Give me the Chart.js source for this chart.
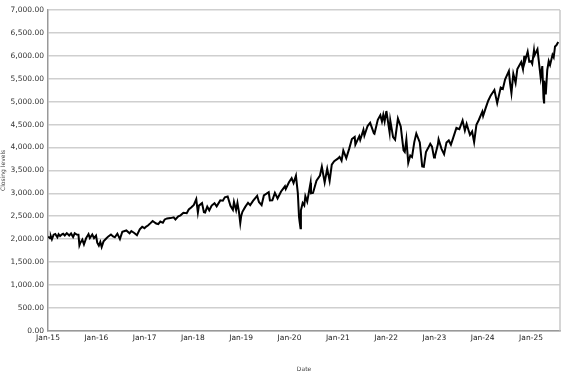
<!DOCTYPE html>
<html><head><meta charset="utf-8">
<script src="https://cdn.jsdelivr.net/npm/chart.js@4.4.1/dist/chart.umd.min.js"></script>
<style>html,body{margin:0;padding:0;background:#fff}#wrap{width:565px;height:381px}</style>
</head><body><div id="wrap"><canvas id="c" width="565" height="381"></canvas></div>
<script>
const yTickLabels = ["0.00","500.00","1,000.00","1,500.00","2,000.00","2,500.00","3,000.00","3,500.00","4,000.00","4,500.00","5,000.00","5,500.00","6,000.00","6,500.00","7,000.00"];
const xTickLabels = ["Jan-15","Jan-16","Jan-17","Jan-18","Jan-19","Jan-20","Jan-21","Jan-22","Jan-23","Jan-24","Jan-25"];

const dates = [
"2015-01-02","2015-01-16","2015-01-22","2015-01-30","2015-02-13","2015-02-25","2015-03-11","2015-03-20","2015-03-31","2015-04-15","2015-04-24","2015-05-06","2015-05-21","2015-06-09","2015-06-23","2015-07-08","2015-07-20","2015-08-05","2015-08-18","2015-08-25","2015-09-01","2015-09-17","2015-09-29","2015-10-15","2015-11-03","2015-11-13","2015-12-01","2015-12-14","2015-12-29",
"2016-01-08","2016-01-20","2016-02-01","2016-02-11","2016-02-25","2016-03-15","2016-03-31","2016-04-20","2016-05-06","2016-05-19","2016-06-08","2016-06-27","2016-07-15","2016-08-15","2016-09-09","2016-09-22","2016-10-14","2016-11-04","2016-11-25","2016-12-13","2016-12-30",
"2017-01-13","2017-01-26","2017-02-15","2017-03-01","2017-03-27","2017-04-13","2017-04-28","2017-05-17","2017-06-01","2017-06-19","2017-07-14","2017-08-08","2017-08-21","2017-09-12","2017-09-29","2017-10-20","2017-11-15","2017-11-30","2017-12-18",
"2018-01-08","2018-01-26","2018-02-08","2018-02-16","2018-03-09","2018-03-23","2018-04-02","2018-04-18","2018-05-03","2018-05-21","2018-06-12","2018-06-28","2018-07-25","2018-08-14","2018-08-29","2018-09-20","2018-10-11","2018-10-29","2018-11-07","2018-11-23","2018-12-03","2018-12-14","2018-12-24","2018-12-31",
"2019-01-10","2019-01-31","2019-02-22","2019-03-08","2019-03-29","2019-04-30","2019-05-13","2019-06-03","2019-06-20","2019-07-26","2019-08-05","2019-08-23","2019-09-12","2019-10-02","2019-10-28","2019-11-27","2019-12-03","2019-12-27",
"2020-01-17","2020-01-31","2020-02-19","2020-03-03","2020-03-12","2020-03-16","2020-03-23","2020-03-26","2020-04-09","2020-04-21","2020-04-29","2020-05-13","2020-06-08","2020-06-11","2020-06-26","2020-07-22","2020-08-18","2020-09-02","2020-09-23","2020-10-12","2020-10-30","2020-11-16","2020-12-04","2020-12-31",
"2021-01-14","2021-01-29","2021-02-12","2021-03-04","2021-03-26","2021-04-16","2021-05-07","2021-05-12","2021-06-11","2021-06-18","2021-07-12","2021-07-19","2021-08-13","2021-09-02","2021-09-30","2021-10-04","2021-10-29","2021-11-18","2021-11-30","2021-12-10","2021-12-20","2021-12-31",
"2022-01-03","2022-01-27","2022-02-02","2022-02-23","2022-03-08","2022-03-29","2022-04-20","2022-05-02","2022-05-11","2022-05-20","2022-06-02","2022-06-16","2022-07-01","2022-07-14","2022-08-01","2022-08-16","2022-09-12","2022-09-30","2022-10-12","2022-10-28","2022-11-15","2022-11-30","2022-12-13","2022-12-28",
"2023-01-05","2023-01-27","2023-02-02","2023-02-24","2023-03-13","2023-03-31","2023-04-18","2023-05-04","2023-05-19","2023-06-15","2023-07-07","2023-07-31","2023-08-18","2023-09-01","2023-09-26","2023-10-12","2023-10-27","2023-11-14","2023-12-01","2023-12-28",
"2024-01-04","2024-01-24","2024-02-12","2024-03-01","2024-03-28","2024-04-19","2024-05-15","2024-05-31","2024-06-18","2024-07-16","2024-07-25","2024-08-05","2024-08-19","2024-09-06","2024-09-19","2024-10-18","2024-10-31","2024-11-11","2024-11-15","2024-12-06","2024-12-18","2024-12-31",
"2025-01-10","2025-01-23","2025-01-27","2025-02-19","2025-03-13","2025-03-25","2025-04-04","2025-04-08","2025-04-09","2025-04-21","2025-05-02","2025-05-13","2025-05-23","2025-06-11","2025-06-20","2025-06-30","2025-07-10","2025-07-24"
];
const closes = [
2058,2019,2063,1995,2097,2113,2040,2108,2068,2106,2117,2080,2131,2080,2124,2046,2128,2100,2097,1867,1914,1990,1884,2023,2109,2023,2102,2021,2078,
1922,1859,1940,1829,1951,2015,2060,2102,2057,2040,2119,2001,2162,2190,2128,2177,2133,2085,2213,2271,2239,
2275,2297,2349,2396,2342,2329,2384,2357,2430,2453,2459,2475,2428,2496,2519,2575,2565,2647,2690,
2748,2873,2581,2732,2786,2588,2582,2708,2630,2733,2786,2716,2846,2839,2914,2931,2728,2641,2814,2633,2790,2599,2351,2507,
2597,2704,2793,2743,2834,2946,2812,2744,2954,3025,2844,2847,3009,2887,3039,3153,3093,3240,
3330,3225,3386,3003,2481,2386,2237,2630,2790,2737,2939,2820,3232,3002,3009,3276,3389,3580,3237,3534,3270,3627,3699,3756,
3796,3714,3934,3768,3975,4185,4232,4063,4247,4166,4385,4258,4468,4537,4308,4300,4605,4704,4567,4712,4568,4766,
4797,4326,4589,4225,4170,4631,4459,4155,3935,3901,4177,3667,3825,3790,4118,4305,4110,3586,3577,3901,3992,4080,4019,3783,
3808,4070,4179,3970,3855,4109,4154,4061,4192,4426,4399,4589,4370,4516,4274,4349,4117,4495,4595,4783,
4689,4869,5021,5137,5254,4967,5308,5278,5487,5667,5399,5186,5608,5408,5713,5864,5705,6001,5870,6090,5872,5882,
5827,6119,6012,6144,5521,5776,5074,4982,5457,5158,5687,5886,5802,6022,5968,6205,6230,6300
];

function monthIndex(s){const [y,m,d]=s.split('-').map(Number);return (y-2015)*12+(m-1)+(d-1)/30;}
const points = dates.map((d,i)=>({x:monthIndex(d),y:closes[i]}));

const frame = {id:'frame',afterDraw(c){const a=c.chartArea,x=c.ctx;x.save();x.strokeStyle='#c8c8c8';x.lineWidth=1.5;x.beginPath();x.moveTo(a.right,a.top);x.lineTo(a.right,a.bottom);x.stroke();x.restore();}};

new Chart(document.getElementById('c'),{
  type:'line',
  data:{datasets:[{data:points,borderColor:'#000',borderWidth:2,pointRadius:0,tension:0,fill:false}]},
  plugins:[frame],
  options:{
    responsive:false,animation:false,
    layout:{padding:{top:10,right:5,bottom:8,left:0}},
    plugins:{legend:{display:false},tooltip:{enabled:false}},
    scales:{
      x:{type:'linear',min:0,max:127.2,
        grid:{display:false,drawTicks:false},
        border:{color:'#999',width:1.5},
        afterBuildTicks:s=>{s.ticks=xTickLabels.map((_,i)=>({value:i*12}));},
        ticks:{autoSkip:false,maxRotation:0,padding:3,color:'#222',font:{family:'DejaVu Sans',size:7.5},callback:(v)=>xTickLabels[Math.round(v/12)]},
        title:{display:true,text:'Date',color:'#444',font:{family:'DejaVu Sans',size:6},padding:{top:20,bottom:0}}
      },
      y:{min:0,max:7000,
        grid:{color:'#cfcfcf',lineWidth:1.5,drawTicks:false},
        border:{color:'#999',width:1.5},
        afterBuildTicks:s=>{s.ticks=yTickLabels.map((_,i)=>({value:i*500}));},
        afterFit:s=>{s.width=48;},
        ticks:{padding:4,color:'#333',font:{family:'DejaVu Sans',size:7.5},callback:(v)=>yTickLabels[Math.round(v/500)]},
        title:{display:true,text:'Closing levels',color:'#444',font:{family:'DejaVu Sans',size:6},padding:{top:0,bottom:0}}
      }
    }
  }
});
</script></body></html>
